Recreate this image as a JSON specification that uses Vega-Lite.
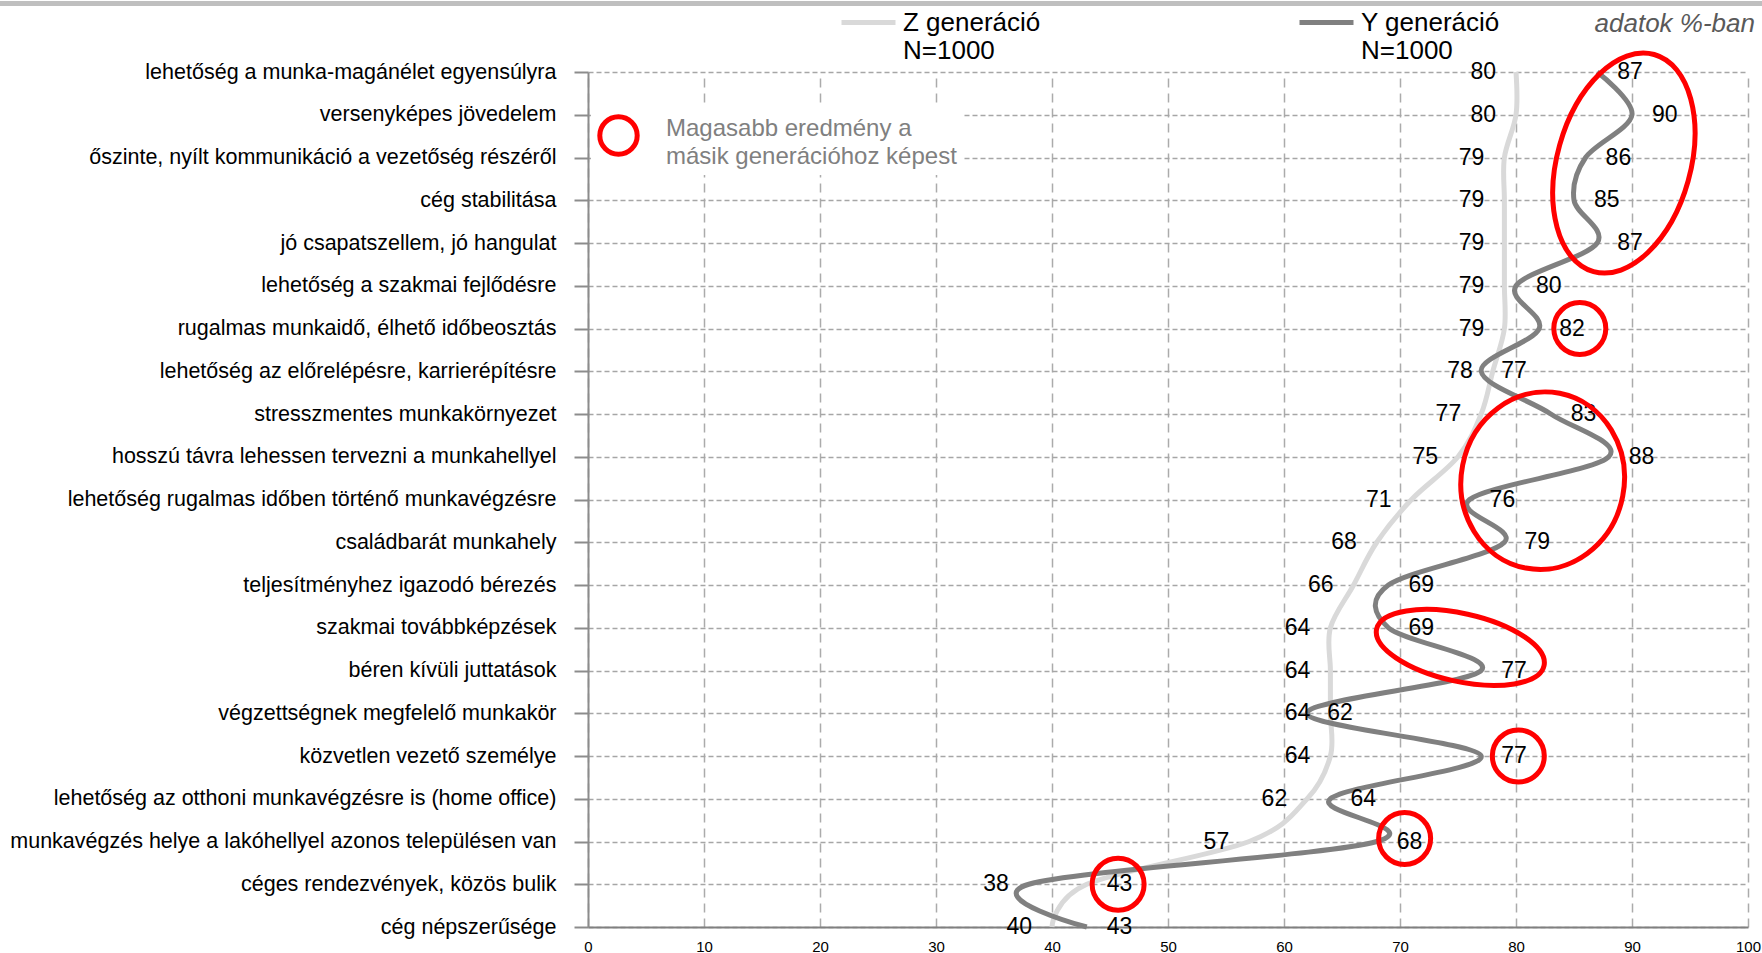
{
  "$schema": "https://vega.github.io/schema/vega-lite/v6.json",
  "width": 1160,
  "height": 855,
  "autosize": {"type": "none"},
  "padding": {"left": 588, "top": 72, "right": 14, "bottom": 26},
  "background": "white",
  "config": {"font": "Liberation Sans", "view": {"stroke": null}, "style": {"guide-label": {"lineHeight": 28.5}}},
  "title": {"text": "adatok %-ban", "anchor": "end", "frame": "group", "baseline": "bottom", "fontStyle": "italic", "fontWeight": "normal", "fontSize": 26, "color": "#595959", "font": "Liberation Sans", "offset": -70, "dx": 7},
  "data": {"values": [
    {"cat": "lehetőség a munka-magánélet egyensúlyra", "gen": "Z generáció", "value": 80},
    {"cat": "lehetőség a munka-magánélet egyensúlyra", "gen": "Y generáció", "value": 87},
    {"cat": "versenyképes jövedelem", "gen": "Z generáció", "value": 80},
    {"cat": "versenyképes jövedelem", "gen": "Y generáció", "value": 90},
    {"cat": "őszinte, nyílt kommunikáció a vezetőség részéről", "gen": "Z generáció", "value": 79},
    {"cat": "őszinte, nyílt kommunikáció a vezetőség részéről", "gen": "Y generáció", "value": 86},
    {"cat": "cég stabilitása", "gen": "Z generáció", "value": 79},
    {"cat": "cég stabilitása", "gen": "Y generáció", "value": 85},
    {"cat": "jó csapatszellem, jó hangulat", "gen": "Z generáció", "value": 79},
    {"cat": "jó csapatszellem, jó hangulat", "gen": "Y generáció", "value": 87},
    {"cat": "lehetőség a szakmai fejlődésre", "gen": "Z generáció", "value": 79},
    {"cat": "lehetőség a szakmai fejlődésre", "gen": "Y generáció", "value": 80},
    {"cat": "rugalmas munkaidő, élhető időbeosztás", "gen": "Z generáció", "value": 79},
    {"cat": "rugalmas munkaidő, élhető időbeosztás", "gen": "Y generáció", "value": 82},
    {"cat": "lehetőség az előrelépésre, karrierépítésre", "gen": "Z generáció", "value": 78},
    {"cat": "lehetőség az előrelépésre, karrierépítésre", "gen": "Y generáció", "value": 77},
    {"cat": "stresszmentes munkakörnyezet", "gen": "Z generáció", "value": 77},
    {"cat": "stresszmentes munkakörnyezet", "gen": "Y generáció", "value": 83},
    {"cat": "hosszú távra lehessen tervezni a munkahellyel", "gen": "Z generáció", "value": 75},
    {"cat": "hosszú távra lehessen tervezni a munkahellyel", "gen": "Y generáció", "value": 88},
    {"cat": "lehetőség rugalmas időben történő munkavégzésre", "gen": "Z generáció", "value": 71},
    {"cat": "lehetőség rugalmas időben történő munkavégzésre", "gen": "Y generáció", "value": 76},
    {"cat": "családbarát munkahely", "gen": "Z generáció", "value": 68},
    {"cat": "családbarát munkahely", "gen": "Y generáció", "value": 79},
    {"cat": "teljesítményhez igazodó bérezés", "gen": "Z generáció", "value": 66},
    {"cat": "teljesítményhez igazodó bérezés", "gen": "Y generáció", "value": 69},
    {"cat": "szakmai továbbképzések", "gen": "Z generáció", "value": 64},
    {"cat": "szakmai továbbképzések", "gen": "Y generáció", "value": 69},
    {"cat": "béren kívüli juttatások", "gen": "Z generáció", "value": 64},
    {"cat": "béren kívüli juttatások", "gen": "Y generáció", "value": 77},
    {"cat": "végzettségnek megfelelő munkakör", "gen": "Z generáció", "value": 64},
    {"cat": "végzettségnek megfelelő munkakör", "gen": "Y generáció", "value": 62},
    {"cat": "közvetlen vezető személye", "gen": "Z generáció", "value": 64},
    {"cat": "közvetlen vezető személye", "gen": "Y generáció", "value": 77},
    {"cat": "lehetőség az otthoni munkavégzésre is (home office)", "gen": "Z generáció", "value": 62},
    {"cat": "lehetőség az otthoni munkavégzésre is (home office)", "gen": "Y generáció", "value": 64},
    {"cat": "munkavégzés helye a lakóhellyel azonos településen van", "gen": "Z generáció", "value": 57},
    {"cat": "munkavégzés helye a lakóhellyel azonos településen van", "gen": "Y generáció", "value": 68},
    {"cat": "céges rendezvények, közös bulik", "gen": "Z generáció", "value": 43},
    {"cat": "céges rendezvények, közös bulik", "gen": "Y generáció", "value": 38},
    {"cat": "cég népszerűsége", "gen": "Z generáció", "value": 40},
    {"cat": "cég népszerűsége", "gen": "Y generáció", "value": 43}
  ]},
  "layer": [
    {
      "layer": [
        {
          "mark": {"type": "line", "interpolate": "cardinal", "tension": 0, "strokeWidth": 5, "order": false},
          "encoding": {
            "x": {"field": "value", "type": "quantitative",
              "scale": {"domain": [0, 100], "nice": false, "zero": false},
              "axis": {"title": null, "values": [0, 10, 20, 30, 40, 50, 60, 70, 80, 90, 100], "ticks": false, "labelFlush": false, "labelPadding": 12, "labelFontSize": 15, "labelColor": "#000000", "domainColor": "#808080", "domainWidth": 2, "grid": true, "gridColor": "#ababab", "gridDash": [9, 6], "gridWidth": 1.5}},
            "y": {"field": "cat", "type": "nominal", "sort": null,
              "scale": {"type": "point", "padding": 0},
              "axis": {"title": null, "labelFontSize": 21.5, "labelColor": "#000000", "labelPadding": 18, "labelLimit": 700, "tickSize": 14, "tickColor": "#8c8c8c", "tickWidth": 2, "domainColor": "#8c8c8c", "domainWidth": 2, "grid": true, "gridColor": "#a6a6a6", "gridDash": [5, 3], "gridWidth": 1.5}},
            "color": {"field": "gen", "type": "nominal",
              "scale": {"domain": ["Z generáció", "Y generáció"], "range": ["#d9d9d9", "#808080"]},
              "legend": {"orient": "none", "legendX": 251, "legendY": -79, "direction": "horizontal", "title": null, "symbolType": "stroke", "symbolSize": 2916, "symbolStrokeWidth": 5, "labelFontSize": 26, "labelColor": "#000000", "labelExpr": "[datum.label, 'N=1000']", "labelOffset": 5, "columnPadding": 248, "labelLimit": 400}}
          }
        },
        {
          "transform": [{"filter": "(datum.gen === 'Z generáció') !== (datum.cat === 'céges rendezvények, közös bulik')"}],
          "mark": {"type": "text", "align": "right", "baseline": "middle", "dx": -20, "fontSize": 23, "color": "#000000"},
          "encoding": {
            "x": {"field": "value", "type": "quantitative", "scale": {"domain": [0, 100]}},
            "y": {"field": "cat", "type": "nominal", "sort": null},
            "text": {"field": "value", "type": "quantitative"}
          }
        },
        {
          "transform": [{"filter": "(datum.gen === 'Z generáció') === (datum.cat === 'céges rendezvények, közös bulik')"}],
          "mark": {"type": "text", "align": "left", "baseline": "middle", "dx": 20, "fontSize": 23, "color": "#000000"},
          "encoding": {
            "x": {"field": "value", "type": "quantitative", "scale": {"domain": [0, 100]}},
            "y": {"field": "cat", "type": "nominal", "sort": null},
            "text": {"field": "value", "type": "quantitative"}
          }
        }
      ]
    },
    {
      "layer": [
        {
          "data": {"values": [{}]},
          "mark": {"type": "point", "shape": "circle", "size": 2704, "filled": false, "strokeWidth": 5, "opacity": 1},
          "encoding": {
            "x": {"datum": 85.5, "type": "quantitative", "scale": {"domain": [0, 100]}},
            "y": {"datum": 7, "type": "quantitative", "scale": {"domain": [1, 21], "reverse": true, "nice": false, "zero": false}, "axis": null},
            "stroke": {"datum": "Magasabb eredmény a másik generációhoz képest", "type": "nominal",
              "scale": {"range": ["#ff0000"]},
              "legend": {"orient": "none", "legendX": 3, "legendY": 36, "title": null, "symbolType": "circle", "symbolSize": 1400, "symbolStrokeWidth": 5, "symbolFillColor": "transparent", "labelFontSize": 24, "labelColor": "#808080", "labelBaseline": "alphabetic", "labelExpr": "['Magasabb eredmény a', 'másik generációhoz képest']", "labelOffset": 26, "labelLimit": 500, "fillColor": "#ffffff", "padding": 6}}
          }
        },
        {
          "data": {"values": [{}]},
          "mark": {"type": "point", "shape": "circle", "size": 2704, "filled": false, "stroke": "#ff0000", "strokeWidth": 5, "opacity": 1},
          "encoding": {
            "x": {"datum": 80.2, "type": "quantitative", "scale": {"domain": [0, 100]}},
            "y": {"datum": 17, "type": "quantitative", "axis": null}
          }
        },
        {
          "data": {"values": [{}]},
          "mark": {"type": "point", "shape": "circle", "size": 2704, "filled": false, "stroke": "#ff0000", "strokeWidth": 5, "opacity": 1},
          "encoding": {
            "x": {"datum": 70.4, "type": "quantitative", "scale": {"domain": [0, 100]}},
            "y": {"datum": 18.93, "type": "quantitative", "axis": null}
          }
        },
        {
          "data": {"values": [{}]},
          "mark": {"type": "point", "shape": "circle", "size": 2704, "filled": false, "stroke": "#ff0000", "strokeWidth": 5, "opacity": 1},
          "encoding": {
            "x": {"datum": 45.7, "type": "quantitative", "scale": {"domain": [0, 100]}},
            "y": {"datum": 20, "type": "quantitative", "axis": null}
          }
        },
        {
          "data": {"values": [{}]},
          "mark": {"type": "point", "shape": "M 0.592 0 C 0.592 0.552 0.327 1 0 1 C -0.327 1 -0.592 0.552 -0.592 0 C -0.592 -0.552 -0.327 -1 0 -1 C 0.327 -1 0.592 -0.552 0.592 0 Z", "size": 50805, "angle": 15.6, "filled": false, "stroke": "#ff0000", "strokeWidth": 5, "opacity": 1},
          "encoding": {
            "x": {"datum": 89.3, "type": "quantitative", "scale": {"domain": [0, 100]}},
            "y": {"datum": 3.13, "type": "quantitative", "axis": null}
          }
        },
        {
          "data": {"values": [{}]},
          "mark": {"type": "point", "shape": "M 0.916 0 C 0.916 0.552 0.506 1 0 1 C -0.506 1 -0.916 0.552 -0.916 0 C -0.916 -0.552 -0.506 -1 0 -1 C 0.506 -1 0.916 -0.552 0.916 0 Z", "size": 31684, "angle": 11, "filled": false, "stroke": "#ff0000", "strokeWidth": 5, "opacity": 1},
          "encoding": {
            "x": {"datum": 82.3, "type": "quantitative", "scale": {"domain": [0, 100]}},
            "y": {"datum": 10.56, "type": "quantitative", "axis": null}
          }
        },
        {
          "data": {"values": [{}]},
          "mark": {"type": "point", "shape": "M 1 0 C 1 0.219 0.552 0.397 0 0.397 C -0.552 0.397 -1 0.219 -1 0 C -1 -0.219 -0.552 -0.397 0 -0.397 C 0.552 -0.397 1 -0.219 1 0 Z", "size": 29378, "angle": 12.4, "filled": false, "stroke": "#ff0000", "strokeWidth": 5, "opacity": 1},
          "encoding": {
            "x": {"datum": 75.2, "type": "quantitative", "scale": {"domain": [0, 100]}},
            "y": {"datum": 14.46, "type": "quantitative", "axis": null}
          }
        },
        {
          "data": {"values": [{}]},
          "mark": {"type": "rule", "strokeWidth": 5, "color": "#bfbfbf"},
          "encoding": {
            "x": {"datum": -51, "type": "quantitative", "scale": {"domain": [0, 100]}},
            "x2": {"datum": 102},
            "y": {"datum": -0.6, "type": "quantitative", "axis": null}
          }
        }
      ]
    }
  ],
  "resolve": {"scale": {"y": "independent"}}
}
